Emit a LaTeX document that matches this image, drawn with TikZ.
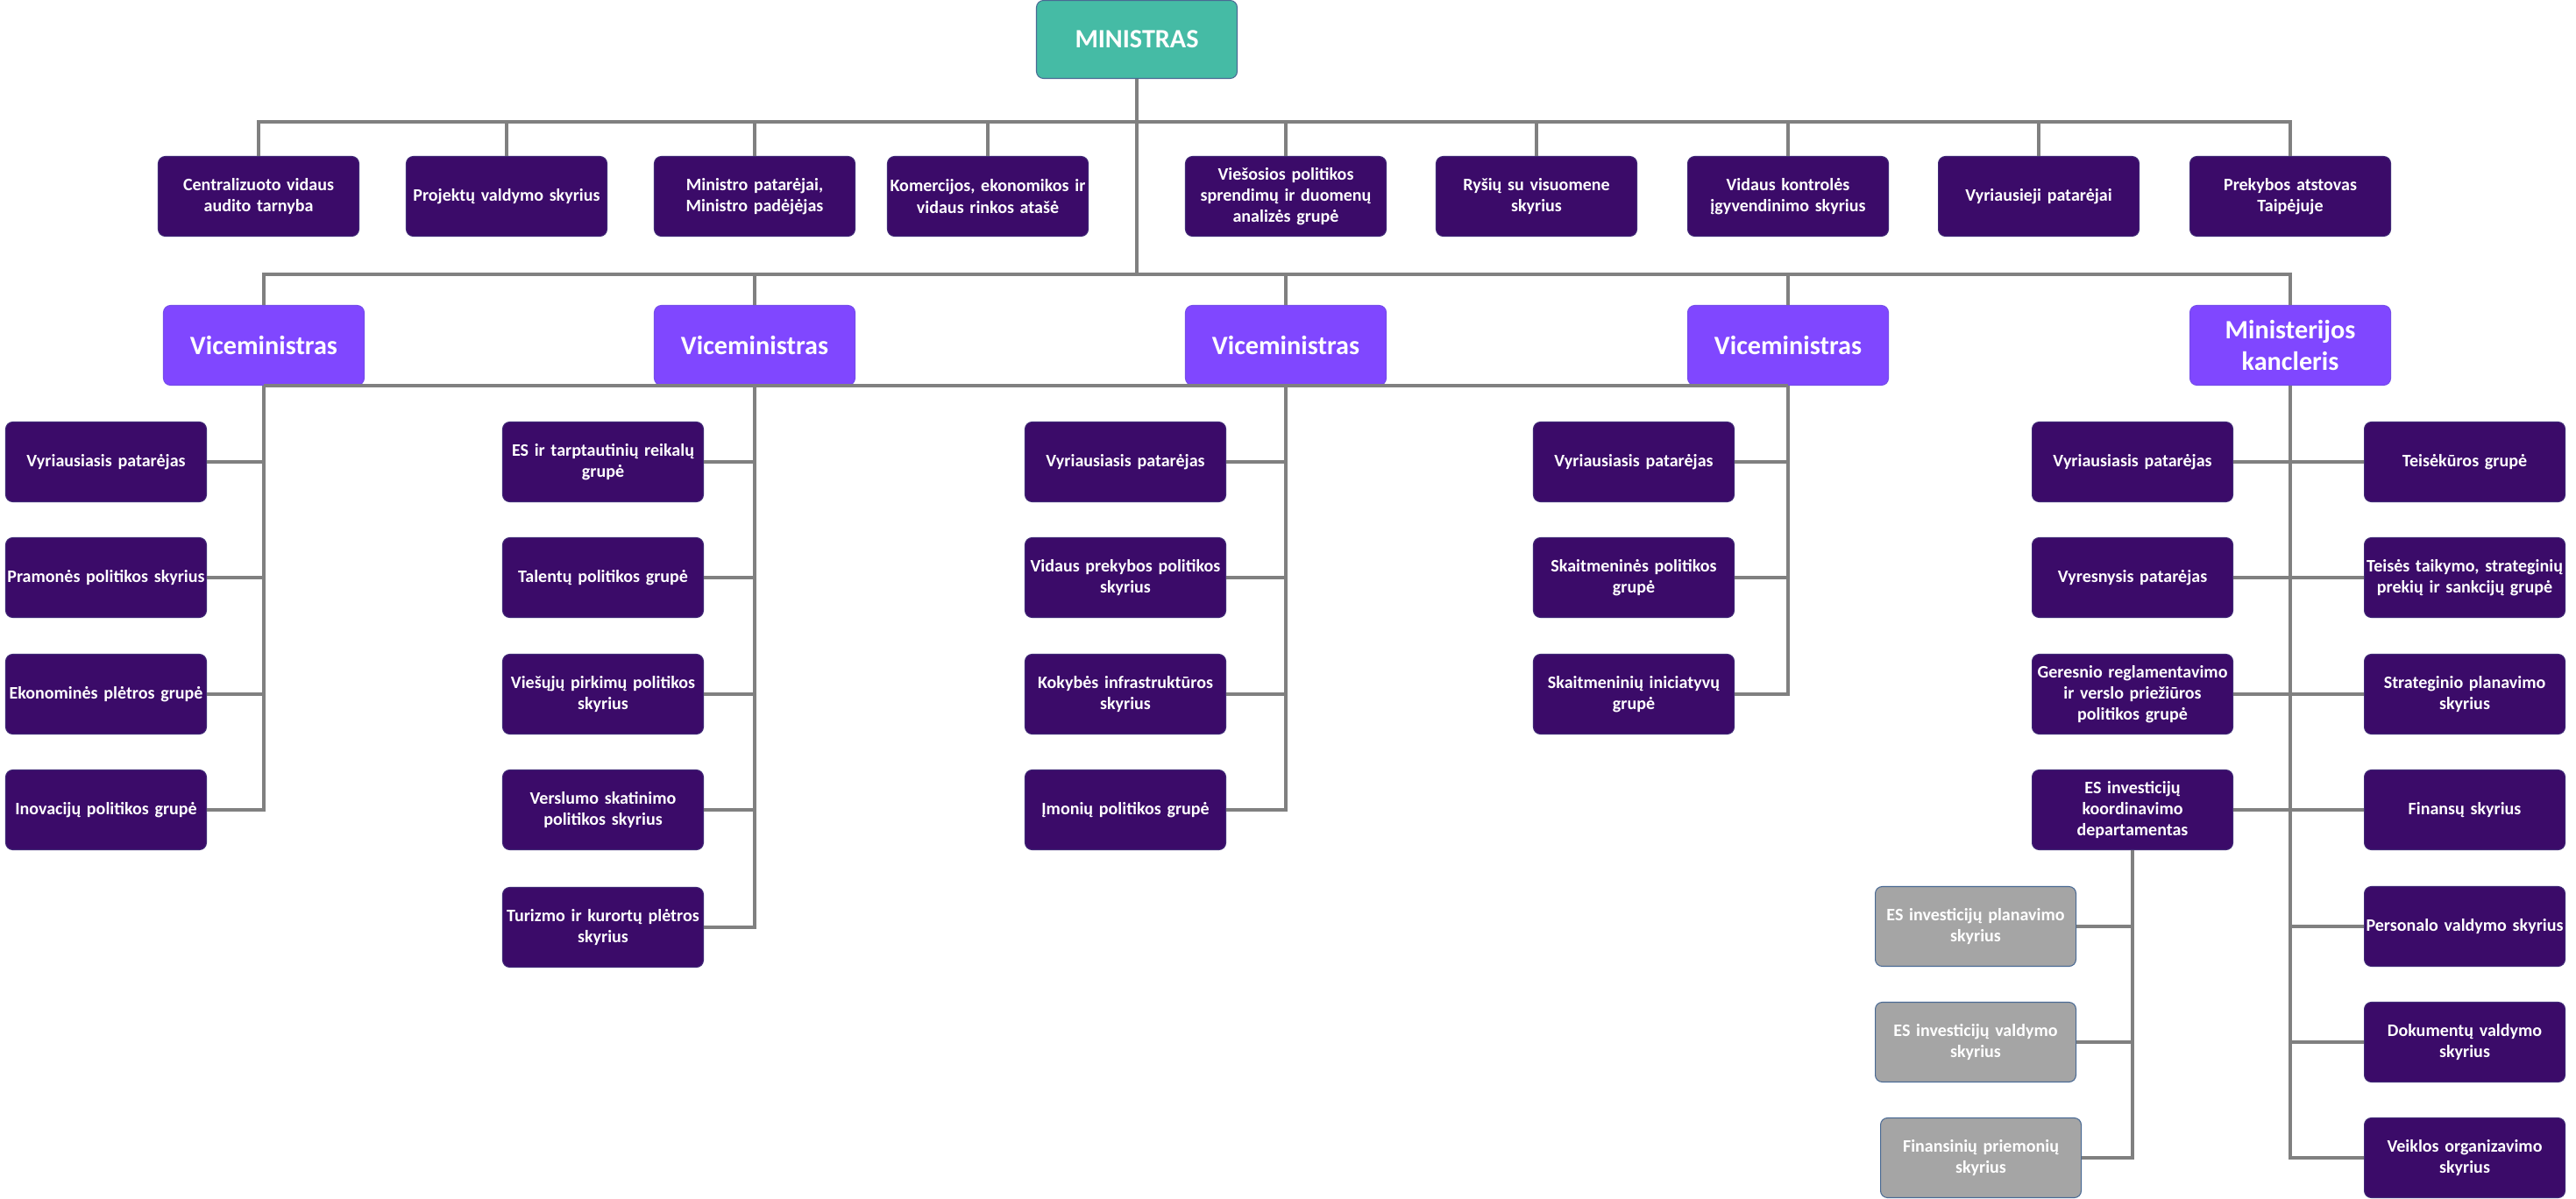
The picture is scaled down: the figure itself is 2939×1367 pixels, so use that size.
\documentclass[tikz,border=0pt]{standalone}
\usepackage{fontspec}
\setmainfont{Carlito}
\usetikzlibrary{positioning}
\definecolor{mint}{HTML}{45BBA5}
\definecolor{vice}{HTML}{8047FF}
\definecolor{deep}{HTML}{3B0B69}
\definecolor{greyfill}{HTML}{A5A5A5}
\definecolor{edge}{HTML}{4A6A94}
\definecolor{linegrey}{HTML}{808080}

\begin{document}
\begin{tikzpicture}[x=0.1mm,y=-0.1mm,
  box/.style={rounded corners=0.8mm,inner sep=0pt,text width=22.9mm,minimum height=9.1mm,align=center,text=white,
    font=\bfseries\fontsize{5.7}{6.9}\selectfont,fill=deep,draw=deep!70!edge,line width=0.3pt},
  minbox/.style={box,fill=mint,draw=edge,font=\bfseries\fontsize{8.6}{10}\selectfont},
  vicebox/.style={box,fill=vice,draw=vice!80!edge,font=\bfseries\fontsize{8.6}{10.3}\selectfont},
  greybox/.style={box,fill=greyfill,draw=edge},
  link/.style={draw=linegrey,line width=1.3pt}]
\useasboundingbox (0,0) rectangle (2939,1367);

% top
\node[minbox,minimum height=8.9mm] (min) at (1297,45) {MINISTRAS};
\coordinate (topbar) at (1297,139);
\coordinate (vicebar) at (1297,313);

% units under the minister
\node[box] (r1) at (295,224) {Centralizuoto vidaus\\audito tarnyba};
\node[box] (r2) at (578,224) {Projektų valdymo skyrius};
\node[box] (r3) at (861,224) {Ministro patarėjai,\\Ministro padėjėjas};
\node[box] (r4) at (1127,224) {Komercijos, ekonomikos ir\\vidaus rinkos atašė};
\node[box] (r5) at (1467,224) {Viešosios politikos\\sprendimų ir duomenų\\analizės grupė};
\node[box] (r6) at (1753,224) {Ryšių su visuomene\\skyrius};
\node[box] (r7) at (2040,224) {Vidaus kontrolės\\įgyvendinimo skyrius};
\node[box] (r8) at (2326,224) {Vyriausieji patarėjai};
\node[box] (r9) at (2613,224) {Prekybos atstovas\\Taipėjuje};

% vice ministers
\node[vicebox] (v1) at (301,394) {Viceministras};
\node[vicebox] (v2) at (861,394) {Viceministras};
\node[vicebox] (v3) at (1467,394) {Viceministras};
\node[vicebox] (v4) at (2040,394) {Viceministras};
\node[vicebox] (v5) at (2613,394) {Ministerijos\\kancleris};

% columns
\node[box] (a1) at (121,527) {Vyriausiasis patarėjas};
\node[box] (a2) at (121,659) {Pramonės politikos skyrius};
\node[box] (a3) at (121,792) {Ekonominės plėtros grupė};
\node[box] (a4) at (121,924) {Inovacijų politikos grupė};

\node[box] (b1) at (688,527) {ES ir tarptautinių reikalų\\grupė};
\node[box] (b2) at (688,659) {Talentų politikos grupė};
\node[box] (b3) at (688,792) {Viešųjų pirkimų politikos\\skyrius};
\node[box] (b4) at (688,924) {Verslumo skatinimo\\politikos skyrius};
\node[box] (b5) at (688,1058) {Turizmo ir kurortų plėtros\\skyrius};

\node[box] (c1) at (1284,527) {Vyriausiasis patarėjas};
\node[box] (c2) at (1284,659) {Vidaus prekybos politikos\\skyrius};
\node[box] (c3) at (1284,792) {Kokybės infrastruktūros\\skyrius};
\node[box] (c4) at (1284,924) {Įmonių politikos grupė};

\node[box] (d1) at (1864,527) {Vyriausiasis patarėjas};
\node[box] (d2) at (1864,659) {Skaitmeninės politikos\\grupė};
\node[box] (d3) at (1864,792) {Skaitmeninių iniciatyvų\\grupė};

\node[box] (e1) at (2433,527) {Vyriausiasis patarėjas};
\node[box] (e2) at (2433,659) {Vyresnysis patarėjas};
\node[box] (e3) at (2433,792) {Geresnio reglamentavimo\\ir verslo priežiūros\\politikos grupė};
\node[box] (e4) at (2433,924) {ES investicijų\\koordinavimo\\departamentas};

\node[box] (k1) at (2812,527) {Teisėkūros grupė};
\node[box] (k2) at (2812,659) {Teisės taikymo, strateginių\\prekių ir sankcijų grupė};
\node[box] (k3) at (2812,792) {Strateginio planavimo\\skyrius};
\node[box] (k4) at (2812,924) {Finansų skyrius};
\node[box] (k5) at (2812,1057) {Personalo valdymo skyrius};
\node[box] (k6) at (2812,1189) {Dokumentų valdymo\\skyrius};
\node[box] (k7) at (2812,1321) {Veiklos organizavimo\\skyrius};

\node[greybox] (g1) at (2254,1057) {ES investicijų planavimo\\skyrius};
\node[greybox] (g2) at (2254,1189) {ES investicijų valdymo\\skyrius};
\node[greybox] (g3) at (2260,1321) {Finansinių priemonių\\skyrius};

% bars
\draw[link] (min.south) -- (min |- vicebar);
\draw[link] (r1.north) |- (r9 |- topbar) -- (r9.north);
\foreach \i in {2,...,8} {\draw[link] (r\i.north) -- (r\i |- topbar);}
\draw[link] (v1.north) |- (v5 |- vicebar) -- (v5.north);
\foreach \i in {2,3,4} {\draw[link] (v\i.north) -- (v\i |- vicebar);}
\draw[link] (v1.south) -- (v4.south);

% branches
\draw[link] (v1.south) |- (a4.east);
\foreach \i in {1,2,3} {\draw[link] (a\i.east) -- (a\i -| v1);}
\draw[link] (v2.south) |- (b5.east);
\foreach \i in {1,...,4} {\draw[link] (b\i.east) -- (b\i -| v2);}
\draw[link] (v3.south) |- (c4.east);
\foreach \i in {1,2,3} {\draw[link] (c\i.east) -- (c\i -| v3);}
\draw[link] (v4.south) |- (d3.east);
\foreach \i in {1,2} {\draw[link] (d\i.east) -- (d\i -| v4);}
\draw[link] (v5.south) |- (k7.west);
\foreach \i in {1,...,6} {\draw[link] (k\i.west) -- (k\i -| v5);}
\foreach \i in {1,...,4} {\draw[link] (e\i.east) -- (e\i -| v5);}
\draw[link] (e4.south) |- (g3.east);
\foreach \i in {1,2} {\draw[link] (g\i.east) -- (g\i -| e4);}
\end{tikzpicture}
\end{document}
